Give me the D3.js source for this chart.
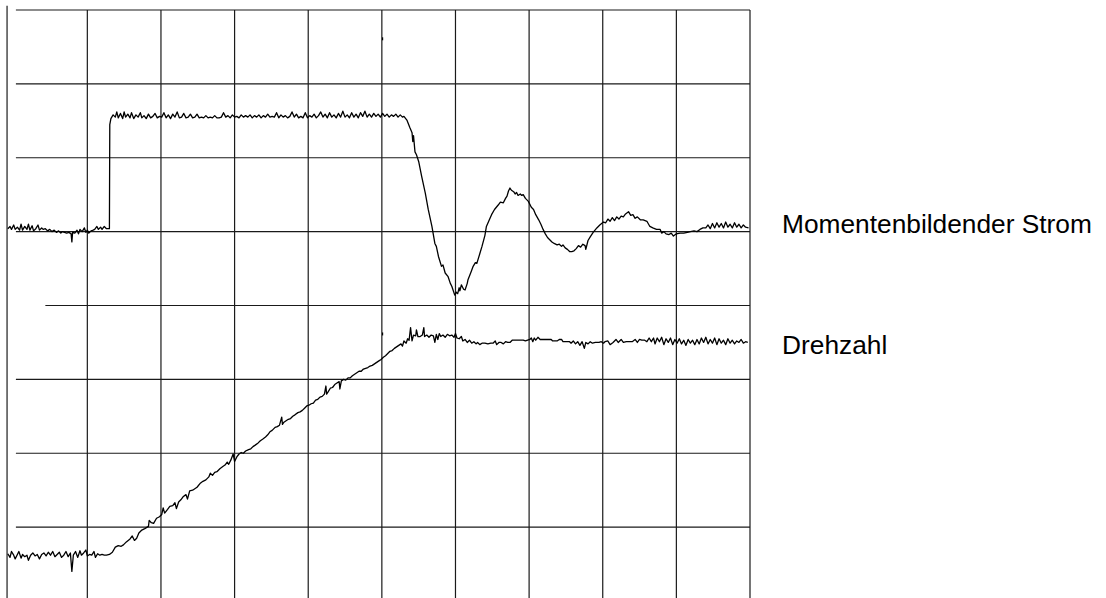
<!DOCTYPE html>
<html><head><meta charset="utf-8">
<script src="https://cdn.jsdelivr.net/npm/d3@7"></script>
<style>html,body{margin:0;padding:0;background:#fff;}svg{display:block;}</style>
</head><body>
<svg id="chart" width="1106" height="598"></svg>
<script>
// Units: horizontal and vertical screen divisions of the oscilloscope trace
const gridX = [1,2,3,4,5,6,7,8,9,10];
const gridY = [1,2,3,4,5,6,7,8];
const gridYStart = [0.03,0.03,0.03,0.43,0.03,0.03,0.03,0.03];
const frameX = -0.09;
const frameTop = 8.056;
const seriesNames = ["Momentenbildender Strom", "Drehzahl"];
const labelY = [4.98, 3.345];
const labelX = 10.435;
const tickMarks = [[5.01, 7.61], [5.01, 3.615]];

const strom = [
[-0.08,5.04],[-0.05,5.07],[-0.03,5.03],[0.0,5.09],[0.02,5.03],[0.05,5.06],[0.08,5.02],[0.10,5.10],[0.12,5.02],[0.15,5.07],[0.18,5.03],[0.20,5.10],[0.22,5.02],[0.25,5.08],[0.27,5.01],[0.30,5.04],[0.33,5.09],[0.35,5.02],[0.38,5.05],[0.40,5.03],[0.43,5.04],[0.46,5.01],[0.49,5.03],[0.52,5.00],[0.55,5.02],[0.58,4.99],[0.61,5.01],[0.64,4.98],[0.66,5.00],[0.69,4.99],[0.72,4.98],[0.75,4.99],[0.78,4.97],[0.79,4.86],[0.80,4.99],[0.83,4.98],[0.86,5.02],[0.88,4.97],[0.90,5.03],[0.93,5.00],[0.96,5.05],[0.98,4.99],[1.00,5.02],[1.02,4.98],[1.05,5.01],[1.08,5.02],[1.10,5.03],[1.13,5.07],[1.15,5.03],[1.18,5.06],[1.20,5.03],[1.23,5.07],[1.26,5.04],[1.30,5.04],
[1.305,6.45],[1.32,6.53],[1.35,6.58],[1.38,6.55],[1.40,6.62],[1.42,6.54],[1.45,6.60],[1.48,6.53],[1.50,6.62],[1.52,6.55],[1.55,6.59],[1.58,6.54],[1.60,6.61],[1.63,6.53],[1.66,6.58],[1.69,6.55],[1.72,6.61],[1.74,6.54],[1.77,6.57],[1.80,6.53],[1.83,6.59],[1.86,6.54],[1.89,6.56],[1.92,6.60],[1.95,6.54],[1.98,6.56],[2.01,6.55],[2.04,6.61],[2.07,6.54],[2.10,6.58],[2.13,6.53],[2.16,6.59],[2.19,6.55],[2.22,6.62],[2.25,6.54],[2.28,6.55],[2.31,6.60],[2.34,6.54],[2.37,6.55],[2.40,6.59],[2.43,6.54],[2.46,6.55],[2.49,6.59],[2.52,6.54],[2.55,6.55],[2.58,6.54],[2.61,6.57],[2.64,6.54],[2.67,6.55],[2.70,6.54],[2.73,6.57],[2.76,6.54],[2.79,6.54],[2.82,6.55],[2.85,6.61],[2.88,6.55],[2.91,6.57],[2.94,6.54],[2.97,6.58],[3.00,6.55],[3.03,6.56],[3.06,6.54],[3.09,6.58],[3.12,6.55],[3.15,6.57],[3.18,6.55],[3.21,6.58],[3.24,6.54],[3.27,6.57],[3.30,6.55],[3.33,6.58],[3.36,6.54],[3.39,6.57],[3.42,6.55],[3.45,6.59],[3.48,6.55],[3.51,6.56],[3.54,6.55],[3.57,6.61],[3.60,6.54],[3.63,6.58],[3.66,6.55],[3.69,6.57],[3.72,6.54],[3.75,6.56],[3.78,6.62],[3.81,6.55],[3.84,6.59],[3.87,6.54],[3.90,6.56],[3.93,6.54],[3.96,6.61],[3.99,6.54],[4.02,6.57],[4.05,6.55],[4.08,6.59],[4.11,6.54],[4.14,6.57],[4.17,6.62],[4.20,6.55],[4.23,6.59],[4.26,6.54],[4.29,6.61],[4.32,6.55],[4.35,6.58],[4.38,6.54],[4.41,6.60],[4.44,6.55],[4.47,6.63],[4.50,6.55],[4.53,6.58],[4.56,6.54],[4.59,6.61],[4.62,6.55],[4.65,6.59],[4.68,6.54],[4.71,6.61],[4.74,6.56],[4.77,6.63],[4.80,6.55],[4.83,6.59],[4.86,6.55],[4.89,6.60],[4.92,6.56],[4.95,6.59],[4.98,6.55],[5.01,6.60],[5.04,6.56],[5.07,6.59],[5.10,6.55],[5.13,6.58],[5.16,6.56],[5.19,6.59],[5.22,6.55],[5.25,6.58],[5.28,6.55],
[5.30,6.56],[5.34,6.51],[5.38,6.41],[5.41,6.34],[5.42,6.22],[5.43,6.30],[5.45,6.08],[5.47,6.04],[5.50,5.95],[5.54,5.75],[5.59,5.52],[5.63,5.30],[5.68,5.07],[5.72,4.84],[5.74,4.80],[5.77,4.66],[5.81,4.53],[5.83,4.55],[5.86,4.44],[5.90,4.39],[5.93,4.30],[5.95,4.26],[5.99,4.14],[6.01,4.18],[6.03,4.16],[6.05,4.24],[6.06,4.20],[6.08,4.28],[6.11,4.22],[6.13,4.21],[6.16,4.30],[6.17,4.35],[6.21,4.45],[6.24,4.53],[6.27,4.58],[6.29,4.57],[6.33,4.70],[6.36,4.80],[6.40,4.95],[6.42,5.07],[6.46,5.16],[6.49,5.23],[6.53,5.30],[6.58,5.36],[6.61,5.40],[6.65,5.39],[6.68,5.45],[6.70,5.48],[6.72,5.55],[6.74,5.59],[6.76,5.56],[6.79,5.54],[6.81,5.51],[6.83,5.53],[6.85,5.49],[6.88,5.51],[6.90,5.49],[6.92,5.50],[6.95,5.45],[6.99,5.41],[7.03,5.33],[7.06,5.30],[7.09,5.23],[7.13,5.16],[7.16,5.10],[7.19,5.03],[7.22,4.97],[7.25,4.92],[7.28,4.89],[7.31,4.86],[7.34,4.84],[7.38,4.82],[7.41,4.83],[7.44,4.80],[7.46,4.82],[7.49,4.78],[7.52,4.76],[7.55,4.73],[7.58,4.73],[7.61,4.74],[7.64,4.77],[7.67,4.81],[7.70,4.79],[7.73,4.83],[7.76,4.81],[7.77,4.76],[7.80,4.88],[7.83,4.93],[7.87,4.99],[7.92,5.05],[7.96,5.09],[8.01,5.13],[8.04,5.12],[8.07,5.17],[8.10,5.14],[8.13,5.19],[8.16,5.15],[8.19,5.20],[8.22,5.17],[8.25,5.21],[8.28,5.20],[8.31,5.24],[8.35,5.27],[8.38,5.22],[8.41,5.23],[8.44,5.18],[8.47,5.20],[8.51,5.16],[8.55,5.16],[8.60,5.14],[8.64,5.07],[8.68,5.05],[8.73,5.03],[8.78,5.03],[8.80,4.98],[8.83,5.00],[8.86,4.97],[8.90,4.96],[8.93,4.98],[8.96,4.94],[9.00,4.97],[9.05,4.98],[9.10,4.98],[9.15,4.99],[9.19,5.00],[9.24,5.01],[9.28,5.00],[9.32,5.03],[9.36,5.05],[9.40,5.05],[9.43,5.09],[9.46,5.04],[9.49,5.11],[9.52,5.05],[9.55,5.12],[9.58,5.06],[9.61,5.11],[9.64,5.05],[9.67,5.13],[9.70,5.06],[9.73,5.10],[9.76,5.05],[9.79,5.12],[9.82,5.06],[9.85,5.10],[9.88,5.05],[9.91,5.09],[9.94,5.06],[9.98,5.05]
];

const drehzahl = [
[-0.08,0.64],[-0.05,0.59],[-0.03,0.67],[0.00,0.62],[0.02,0.57],[0.05,0.63],[0.07,0.67],[0.10,0.58],[0.12,0.63],[0.15,0.60],[0.18,0.62],[0.20,0.55],[0.23,0.62],[0.26,0.65],[0.29,0.61],[0.32,0.63],[0.35,0.57],[0.38,0.63],[0.41,0.65],[0.44,0.61],[0.47,0.66],[0.50,0.62],[0.53,0.67],[0.56,0.60],[0.59,0.63],[0.62,0.66],[0.65,0.59],[0.68,0.62],[0.71,0.67],[0.74,0.60],[0.77,0.65],[0.79,0.40],[0.81,0.62],[0.84,0.67],[0.87,0.59],[0.90,0.68],[0.92,0.62],[0.95,0.65],[0.98,0.69],[1.00,0.61],[1.03,0.63],[1.06,0.62],[1.09,0.67],[1.11,0.59],[1.14,0.64],[1.17,0.62],[1.20,0.63],[1.23,0.62],[1.26,0.62],[1.30,0.63],
[1.34,0.66],[1.38,0.73],[1.42,0.75],[1.46,0.74],[1.49,0.76],[1.53,0.80],[1.58,0.84],[1.61,0.88],[1.64,0.82],[1.67,0.85],[1.70,0.92],[1.74,0.96],[1.78,0.98],[1.83,1.01],[1.84,1.09],[1.87,1.06],[1.90,1.05],[1.94,1.12],[1.98,1.14],[2.01,1.17],[2.03,1.26],[2.05,1.19],[2.09,1.24],[2.12,1.28],[2.16,1.29],[2.19,1.33],[2.21,1.25],[2.24,1.34],[2.27,1.37],[2.30,1.41],[2.34,1.44],[2.36,1.38],[2.39,1.49],[2.43,1.50],[2.46,1.52],[2.49,1.54],[2.53,1.59],[2.57,1.62],[2.61,1.64],[2.65,1.68],[2.67,1.73],[2.70,1.70],[2.73,1.74],[2.76,1.75],[2.80,1.79],[2.84,1.82],[2.87,1.84],[2.90,1.88],[2.92,1.85],[2.95,1.91],[2.98,1.99],[3.00,1.89],[3.03,1.95],[3.06,1.99],[3.09,2.01],[3.12,2.00],[3.15,2.03],[3.19,2.05],[3.22,2.06],[3.25,2.09],[3.28,2.11],[3.32,2.14],[3.35,2.17],[3.38,2.19],[3.42,2.22],[3.45,2.25],[3.48,2.29],[3.51,2.31],[3.55,2.35],[3.58,2.36],[3.61,2.38],[3.64,2.49],[3.65,2.39],[3.67,2.42],[3.70,2.44],[3.73,2.46],[3.76,2.47],[3.79,2.50],[3.82,2.52],[3.86,2.55],[3.89,2.56],[3.92,2.58],[3.95,2.61],[3.98,2.64],[4.01,2.65],[4.04,2.67],[4.07,2.68],[4.10,2.72],[4.13,2.73],[4.16,2.76],[4.19,2.77],[4.22,2.80],[4.24,2.91],[4.25,2.80],[4.27,2.83],[4.30,2.88],[4.33,2.89],[4.36,2.93],[4.39,2.95],[4.42,2.97],[4.43,2.87],[4.45,2.98],[4.48,3.00],[4.51,2.99],[4.54,3.02],[4.57,3.02],[4.60,3.05],[4.63,3.07],[4.66,3.09],[4.69,3.11],[4.72,3.11],[4.75,3.14],[4.78,3.15],[4.81,3.16],[4.84,3.18],[4.87,3.19],[4.90,3.21],[4.93,3.23],[4.96,3.25],[4.99,3.27],[5.02,3.30],[5.05,3.32],[5.08,3.35],[5.11,3.38],[5.14,3.39],[5.17,3.42],[5.20,3.44],[5.23,3.46],[5.26,3.48],[5.28,3.45],[5.30,3.52],[5.33,3.49],[5.35,3.55],[5.37,3.53],[5.39,3.70],[5.41,3.52],[5.43,3.60],[5.46,3.59],[5.47,3.67],[5.49,3.58],[5.52,3.58],[5.55,3.60],[5.57,3.70],[5.58,3.58],[5.61,3.60],[5.64,3.57],[5.67,3.60],[5.70,3.59],[5.72,3.50],[5.74,3.61],[5.76,3.54],[5.78,3.62],[5.80,3.58],[5.83,3.60],[5.86,3.57],[5.89,3.61],[5.92,3.59],[5.95,3.60],[5.98,3.57],[6.00,3.62],[6.02,3.56],[6.05,3.55],[6.08,3.58],[6.10,3.52],[6.13,3.54],[6.16,3.50],[6.19,3.53],[6.22,3.49],[6.25,3.51],[6.28,3.48],[6.30,3.50],[6.33,3.47],[6.36,3.49],[6.40,3.49],[6.44,3.48],[6.48,3.49],[6.51,3.49],[6.54,3.52],[6.56,3.47],[6.59,3.50],[6.62,3.50],[6.65,3.48],[6.68,3.51],[6.71,3.50],[6.74,3.50],[6.77,3.53],[6.80,3.53],[6.84,3.53],[6.88,3.53],[6.92,3.53],[6.95,3.52],[6.98,3.53],[7.01,3.54],[7.03,3.56],[7.05,3.51],[7.07,3.56],[7.09,3.53],[7.12,3.57],[7.15,3.54],[7.20,3.54],[7.25,3.54],[7.30,3.54],[7.32,3.52],[7.38,3.52],[7.41,3.54],[7.44,3.54],[7.46,3.51],[7.50,3.51],[7.55,3.51],[7.57,3.49],[7.60,3.52],[7.63,3.48],[7.66,3.51],[7.69,3.46],[7.72,3.51],[7.75,3.42],[7.77,3.50],[7.80,3.48],[7.83,3.51],[7.86,3.49],[7.90,3.50],[7.95,3.50],[7.98,3.51],[8.01,3.49],[8.03,3.51],[8.07,3.52],[8.10,3.47],[8.14,3.50],[8.18,3.54],[8.21,3.50],[8.25,3.54],[8.28,3.50],[8.32,3.51],[8.36,3.51],[8.40,3.51],[8.44,3.54],[8.47,3.50],[8.50,3.54],[8.53,3.53],[8.57,3.53],[8.60,3.51],[8.63,3.56],[8.66,3.51],[8.69,3.56],[8.71,3.48],[8.74,3.56],[8.77,3.51],[8.80,3.57],[8.83,3.47],[8.86,3.55],[8.89,3.50],[8.92,3.56],[8.95,3.47],[8.98,3.54],[9.01,3.49],[9.04,3.55],[9.07,3.48],[9.10,3.53],[9.13,3.46],[9.16,3.54],[9.19,3.49],[9.22,3.53],[9.25,3.47],[9.28,3.54],[9.31,3.48],[9.34,3.56],[9.37,3.50],[9.40,3.57],[9.43,3.48],[9.46,3.54],[9.49,3.49],[9.52,3.56],[9.55,3.47],[9.58,3.55],[9.61,3.49],[9.64,3.53],[9.67,3.47],[9.70,3.55],[9.73,3.49],[9.76,3.53],[9.79,3.48],[9.82,3.52],[9.85,3.50],[9.88,3.54],[9.91,3.49],[9.94,3.51],[9.97,3.50]
];

const svg = d3.select("#chart");
svg.append("rect").attr("width",1106).attr("height",598).attr("fill","#fff");

const x = d3.scaleLinear().domain([0,10]).range([13.7,750]);
const y = d3.scaleLinear().domain([0,8]).range([601,10]);

const grid = svg.append("g").attr("stroke","#1a1a1a").attr("stroke-width",1.2).attr("fill","none");
// frame line on the left
grid.append("line").attr("x1",x(frameX)).attr("x2",x(frameX)).attr("y1",y(frameTop)).attr("y2",y(0)).attr("stroke","#555").attr("stroke-width",1.6);
grid.selectAll("line.v").data(gridX).enter().append("line").attr("class","v")
  .attr("x1",d=>x(d)).attr("x2",d=>x(d)).attr("y1",y(8)).attr("y2",y(0));
grid.selectAll("line.h").data(gridY).enter().append("line").attr("class","h")
  .attr("x1",(d,i)=>x(gridYStart[i])).attr("x2",x(10)).attr("y1",d=>y(d)).attr("y2",d=>y(d));

svg.append("g").selectAll("line").data(tickMarks).enter().append("line")
  .attr("x1",d=>x(d[0])).attr("x2",d=>x(d[0])).attr("y1",d=>y(d[1])-1.5).attr("y2",d=>y(d[1])+1.5)
  .attr("stroke","#000").attr("stroke-width",1.2);

const line = d3.line().x(d=>x(d[0])).y(d=>y(d[1]));
[strom, drehzahl].forEach(s=>{
  svg.append("path").datum(s).attr("d",line).attr("fill","none").attr("stroke","#000").attr("stroke-width",1.3).attr("stroke-linejoin","round");
});

svg.selectAll("text.lbl").data(seriesNames).enter().append("text").attr("class","lbl")
  .attr("x",x(labelX)).attr("y",(d,i)=>y(labelY[i]))
  .attr("font-family","'Liberation Sans', Arial, sans-serif").attr("font-size",26.3).attr("fill","#000")
  .text(d=>d);
</script>
</body></html>
